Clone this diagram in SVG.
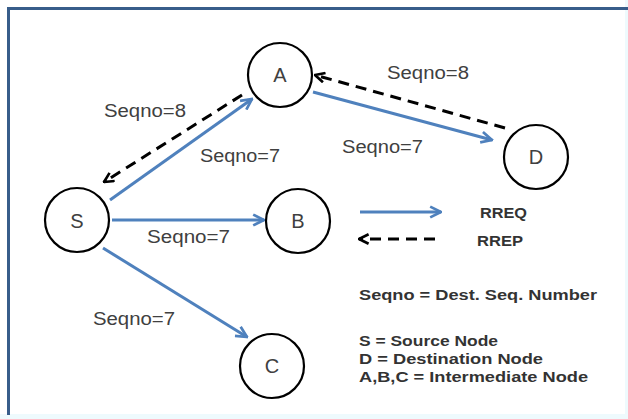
<svg xmlns="http://www.w3.org/2000/svg" width="628" height="419" viewBox="0 0 628 419">
<style>
.node circle{fill:#fff;stroke:#000;stroke-width:2.2}
.node text{font-family:"Liberation Sans",Arial,sans-serif;font-size:20px;fill:#404040;text-anchor:middle}
.req{stroke:#4F81BD;stroke-width:3;fill:none;marker-end:url(#bh)}
.rep{stroke:#000;stroke-width:3;fill:none;stroke-dasharray:11 7;marker-end:url(#kh)}
.lbl{font-family:"Liberation Sans",Arial,sans-serif;font-size:18px;fill:#404040}
.leg{font-family:"Liberation Sans",Arial,sans-serif;font-size:14px;font-weight:bold;fill:#333}
</style>
<defs>
<marker id="bh" viewBox="0 0 10 10" refX="9" refY="5" markerWidth="4.5" markerHeight="4.5" orient="auto" markerUnits="strokeWidth">
<path d="M1,1 L9,5 L1,9" fill="none" stroke="#4F81BD" stroke-width="2"/>
</marker>
<marker id="kh" viewBox="0 0 10 10" refX="9" refY="5" markerWidth="4" markerHeight="4" orient="auto" markerUnits="strokeWidth">
<path d="M1,1 L9,5 L1,9" fill="none" stroke="#000" stroke-width="2.2"/>
</marker>
</defs>
<rect x="0" y="0" width="628" height="419" fill="#fff"/>
<rect x="0" y="414" width="628" height="5" fill="#eefafd"/>
<rect x="625" y="0" width="3" height="419" fill="#eefafd"/>
<path d="M8.5,415 V8.5 H628" fill="none" stroke="#385D8A" stroke-width="3"/>
<g id="connectors">
<line class="req" x1="110" y1="200" x2="252" y2="99"/>
<line class="rep" x1="242" y1="95" x2="104" y2="182"/>
<line class="req" x1="313" y1="92" x2="492" y2="140"/>
<line class="rep" x1="505" y1="128" x2="315" y2="75"/>
<line class="req" x1="112" y1="220" x2="264" y2="220"/>
<line class="req" x1="103" y1="248" x2="247" y2="337"/>
</g>
<g id="labels">
<text class="lbl" x="104" y="117" textLength="82" lengthAdjust="spacingAndGlyphs">Seqno=8</text>
<text class="lbl" x="200" y="162" textLength="80" lengthAdjust="spacingAndGlyphs">Seqno=7</text>
<text class="lbl" x="387" y="79" textLength="82" lengthAdjust="spacingAndGlyphs">Seqno=8</text>
<text class="lbl" x="342" y="153" textLength="81" lengthAdjust="spacingAndGlyphs">Seqno=7</text>
<text class="lbl" x="147" y="243" textLength="83" lengthAdjust="spacingAndGlyphs">Seqno=7</text>
<text class="lbl" x="93" y="325" textLength="82" lengthAdjust="spacingAndGlyphs">Seqno=7</text>
</g>
<g id="node-A" class="node"><circle cx="280" cy="75" r="32"/><text x="280" y="82">A</text></g>
<g id="node-S" class="node"><circle cx="77" cy="220" r="32"/><text x="77" y="228">S</text></g>
<g id="node-B" class="node"><circle cx="298" cy="221" r="32"/><text x="298" y="228">B</text></g>
<g id="node-C" class="node"><circle cx="272" cy="366" r="32"/><text x="272" y="373">C</text></g>
<g id="node-D" class="node"><circle cx="536" cy="157" r="32"/><text x="536" y="164">D</text></g>
<g id="legend">
<line class="req" x1="360" y1="212" x2="441" y2="212"/>
<line class="rep" x1="435" y1="239" x2="359" y2="239"/>
<text class="leg" x="480" y="218" textLength="47" lengthAdjust="spacingAndGlyphs">RREQ</text>
<text class="leg" x="477" y="246" textLength="46" lengthAdjust="spacingAndGlyphs">RREP</text>
<text class="leg" x="359" y="300" textLength="238" lengthAdjust="spacingAndGlyphs">Seqno = Dest. Seq. Number</text>
<text class="leg" x="359" y="346" textLength="139" lengthAdjust="spacingAndGlyphs">S = Source Node</text>
<text class="leg" x="359" y="364" textLength="184" lengthAdjust="spacingAndGlyphs">D = Destination Node</text>
<text class="leg" x="359" y="382" textLength="229" lengthAdjust="spacingAndGlyphs">A,B,C = Intermediate Node</text>
</g>
</svg>
